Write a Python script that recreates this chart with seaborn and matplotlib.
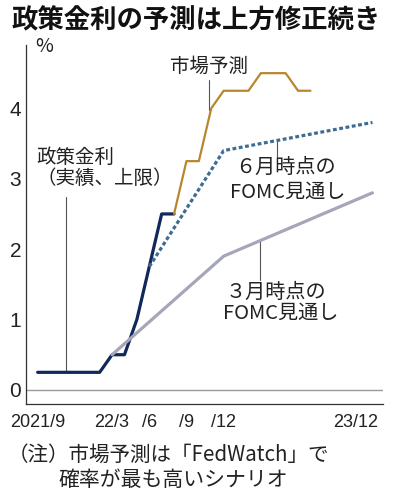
import pandas as pd
import numpy as np
import matplotlib
matplotlib.use("Agg")
import matplotlib.pyplot as plt
import matplotlib.transforms as mtransforms
import seaborn as sns

# --- datos ---
policy_months = ["2021-09", "2021-10", "2021-11", "2021-12", "2022-01", "2022-02",
                 "2022-03", "2022-04", "2022-05", "2022-06", "2022-07", "2022-08"]
policy_rate = [0.25, 0.25, 0.25, 0.25, 0.25, 0.25, 0.5, 0.5, 1.0, 1.75, 2.5, 2.5]

market_months = ["2022-08", "2022-09", "2022-10", "2022-11", "2022-12", "2023-01",
                 "2023-02", "2023-03", "2023-04", "2023-05", "2023-06", "2023-07"]
market_rate = [2.5, 3.25, 3.25, 4.0, 4.25, 4.25, 4.25, 4.5, 4.5, 4.5, 4.25, 4.25]

june_months = ["2022-06", "2022-12", "2023-12"]
june_fomc = [1.75, 3.4, 3.8]

march_months = ["2022-03", "2022-12", "2023-12"]
march_fomc = [0.5, 1.9, 2.8]

tick_months = ["2021-09", "2022-03", "2022-06", "2022-09", "2022-12", "2023-12"]
tick_labels = ["2021/9", "22/3", "/6", "/9", "/12", "23/12"]

START = pd.Period("2021-09", freq="M")


def to_idx(months):
    return [(pd.Period(m, freq="M") - START).n for m in months]


def frame(months, vals):
    return pd.DataFrame({"m": to_idx(months), "v": vals})


NAVY = "#10295a"
GOLD = "#b8862e"
BLUE = "#3f6c93"
GRAY = "#a6a6ba"
LEAD = "#555555"

sns.set_style("white")
plt.rcParams["font.family"] = ["Noto Sans CJK JP", "DejaVu Sans"]
NUM_FONT = ["Liberation Sans", "DejaVu Sans"]

fig = plt.figure(figsize=(3.94, 5.0), dpi=100)
ax = fig.add_axes([26 / 394, 1 - 404 / 500, (383 - 26) / 394, (404 - 45) / 500])

ax.axhline(0, color="#9a9a9a", lw=1.0, zorder=1)

sns.lineplot(data=frame(policy_months, policy_rate), x="m", y="v", ax=ax,
             color=NAVY, lw=2.3, zorder=3)
sns.lineplot(data=frame(market_months, market_rate), x="m", y="v", ax=ax,
             color=GOLD, lw=1.6, zorder=3)
sns.lineplot(data=frame(march_months, march_fomc), x="m", y="v", ax=ax,
             color=GRAY, lw=2.3, zorder=4)
sns.lineplot(data=frame(june_months, june_fomc), x="m", y="v", ax=ax,
             color=BLUE, lw=2.3, zorder=4, linestyle=(0, (1.2, 0.8)))

ax.set_xlim(-0.94, 27.85)
ax.set_ylim(-0.2, 4.9)
ax.set_xlabel("")
ax.set_ylabel("")
sns.despine(ax=ax)
for s in ["left", "bottom"]:
    ax.spines[s].set_color("#333333")
    ax.spines[s].set_linewidth(0.9)

# ejes
ax.set_yticks([0, 1, 2, 3, 4])
ax.set_yticklabels(["0", "1", "2", "3", "4"], family=NUM_FONT, fontsize=15)
ax.tick_params(axis="y", direction="inout", length=5, width=0.8, pad=1,
               colors="#222222")
all_months = np.arange(0, 28)
labels = {i: "" for i in all_months}
for m, t in zip(to_idx(tick_months), tick_labels):
    labels[m] = t
ax.set_xticks(all_months)
ax.set_xticklabels([labels[i] for i in all_months], family=NUM_FONT, fontsize=13)
ax.tick_params(axis="x", direction="in", length=3.5, width=0.8, pad=7,
               colors="#222222")
ax.grid(False)
# el último rótulo se desplaza a la izquierda para no cortarse
last = ax.get_xticklabels()[-1]
last.set_horizontalalignment("right")
last.set_transform(last.get_transform() +
                   mtransforms.ScaledTranslation(6 / 100, 0, fig.dpi_scale_trans))

# anotaciones
def leader(x, y0, y1):
    ax.plot([x, x], [y0, y1], color=LEAD, lw=0.8, zorder=2)

leader(13.85, 3.97, 4.4)
ax.text(13.85, 4.6, "市場予測", ha="center", va="center", fontsize=14, color="#222222")

leader(2.3, 0.25, 2.74)
ax.text(-0.1, 3.3, "政策金利", ha="left", va="center", fontsize=14, color="#222222")
ax.text(-0.1, 3.0, "（実績、上限）", ha="left", va="center", fontsize=14, color="#222222")

leader(19.3, 3.54, 3.31)
ax.text(20.0, 3.16, "６月時点の", ha="center", va="center", fontsize=14.5, color="#222222")
ax.text(20.2, 2.81, "FOMC見通し", ha="center", va="center", fontsize=14.5, color="#222222")

leader(17.9, 2.12, 1.56)
ax.text(19.2, 1.38, "３月時点の", ha="center", va="center", fontsize=14.5, color="#222222")
ax.text(19.6, 1.09, "FOMC見通し", ha="center", va="center", fontsize=14.5, color="#222222")

# títulos y notas
fig.text(12 / 394, 1 - 21 / 500, "政策金利の予測は上方修正続き", ha="left", va="center",
         fontsize=19, fontweight="bold", color="#111111")
fig.text(35 / 394, 1 - 47 / 500, "%", ha="left", va="center", fontsize=14, color="#222222")
fig.text(8 / 394, 1 - 455 / 500, "（注）市場予測は「FedWatch」で", ha="left", va="center",
         fontsize=14.8, color="#222222")
fig.text(58 / 394, 1 - 480 / 500, "確率が最も高いシナリオ", ha="left", va="center",
         fontsize=15, color="#222222")

fig.savefig("out.png", dpi=100)
